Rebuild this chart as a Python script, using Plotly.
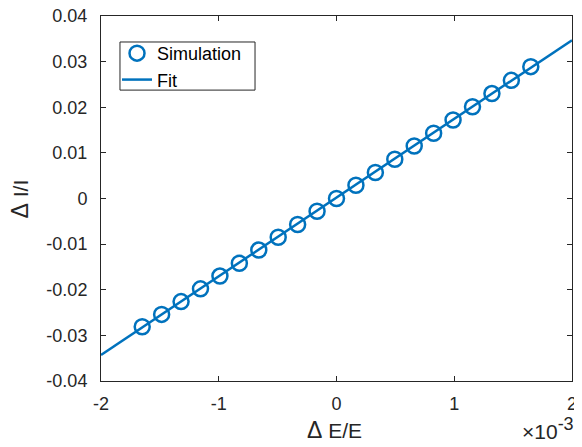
import plotly.graph_objects as go

# Simulation data (Delta E/E, Delta I/I)
sim_x = [k * 0.165e-3 for k in range(-10, 11)]
sim_y = [-0.0281, -0.0254, -0.0226, -0.0198, -0.0170, -0.0142, -0.0113, -0.0085,
         -0.0057, -0.0028, 0.0000, 0.0029, 0.0057, 0.0086, 0.0115, 0.0143,
         0.0172, 0.0201, 0.0230, 0.0259, 0.0289]

# Fit line endpoints
fit_x = [-2e-3, 2e-3]
fit_y = [-0.0343, 0.0347]

x_ticks = [-2e-3, -1e-3, 0, 1e-3, 2e-3]
x_labels = ["-2", "-1", "0", "1", "2"]
y_ticks = [-0.04, -0.03, -0.02, -0.01, 0, 0.01, 0.02, 0.03, 0.04]
y_labels = ["-0.04", "-0.03", "-0.02", "-0.01", "0", "0.01", "0.02", "0.03", "0.04"]

blue = "#0072BD"
axc = "#262626"
font = "Liberation Sans, Arial, sans-serif"

fig = go.Figure()
fig.add_trace(go.Scatter(x=sim_x, y=sim_y, mode="markers", name="Simulation",
                         marker=dict(symbol="circle-open", size=15, color=blue,
                                     line=dict(width=2.5, color=blue))))
fig.add_trace(go.Scatter(x=fit_x, y=fit_y, mode="lines", name="Fit",
                         line=dict(color=blue, width=2.5)))

axis_common = dict(showgrid=False, zeroline=False, showline=True, linecolor=axc,
                   linewidth=1, mirror="ticks", ticks="inside", ticklen=5,
                   tickcolor=axc, ticklabeloverflow="allow", automargin=False,
                   tickfont=dict(family=font, size=18, color=axc))

fig.update_layout(
    width=574, height=439,
    margin=dict(l=93, r=10, t=8, b=66, autoexpand=False),
    paper_bgcolor="white", plot_bgcolor="white",
    font=dict(family=font, color=axc),
    showlegend=True,
    legend=dict(x=0.0340, y=0.948, xanchor="left", yanchor="top",
                bgcolor="rgba(0,0,0,0)", borderwidth=0,
                font=dict(family=font, size=18, color="black"),
                tracegroupgap=0, itemwidth=30),
    xaxis=dict(range=[-2e-3, 2e-3], tickvals=x_ticks, ticktext=x_labels,
               ticklabelstandoff=6, **axis_common),
    yaxis=dict(range=[-0.04, 0.04], tickvals=y_ticks, ticktext=y_labels,
               ticklabelstandoff=9, **axis_common),
)
# legend frame
fig.add_shape(type="rect", xref="paper", yref="paper", x0=0.0403, x1=0.327,
              y0=0.797, y1=0.9288, line=dict(color=axc, width=1),
              fillcolor="white", layer="above")
fig.add_annotation(text="<span style='font-size:23px'>Δ</span> E/E", xref="paper", yref="paper",
                   x=0.4968, y=-0.134, xanchor="center", yanchor="middle", showarrow=False,
                   font=dict(family=font, size=21, color=axc))
fig.add_annotation(text="<span style='font-size:23px'>Δ</span> I/I", xref="paper", yref="paper",
                   x=-0.172, y=0.5, xanchor="center", yanchor="middle", showarrow=False,
                   textangle=-90, font=dict(family=font, size=21, color=axc))
fig.add_annotation(text="×10<sup><span style='font-size:18px'>-3</span></sup>", xref="paper",
                   yref="paper", x=1.009, y=-0.175, xanchor="right", yanchor="bottom",
                   showarrow=False, font=dict(family=font, size=21, color=axc))

fig.write_html("out.html")
